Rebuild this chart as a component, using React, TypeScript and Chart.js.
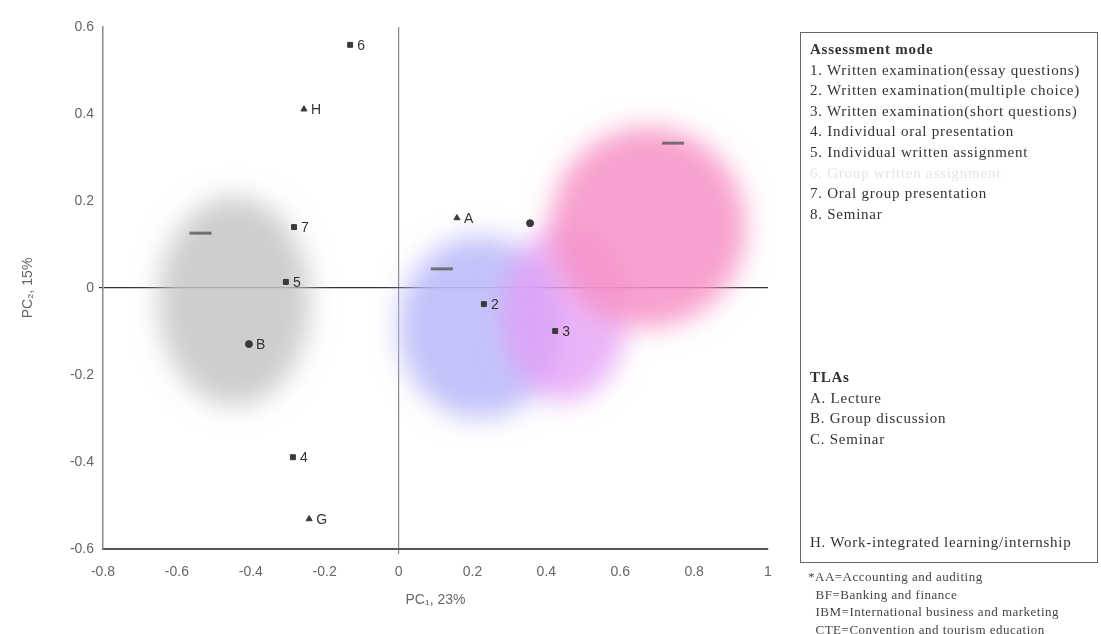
import React, { useEffect, useRef } from "react";
import { Chart, registerables } from "chart.js";

Chart.register(...registerables);

// Item scores (PC1, PC2)
const pointLabels = ["6", "H", "7", "5", "B", "4", "G", "A", "", "2", "3"];
const pointX = [-0.131, -0.256, -0.283, -0.305, -0.405, -0.286, -0.242, 0.158, 0.356, 0.231, 0.424];
const pointY = [0.559, 0.411, 0.14, 0.014, -0.129, -0.389, -0.531, 0.161, 0.149, -0.037, -0.099];
const pointShapes = ["rect", "triangle", "rect", "rect", "circle", "rect", "triangle", "triangle", "circle", "rect", "rect"];

// Programme centroids (short dash marks)
const centroidX = [-0.536, 0.117, 0.743];
const centroidY = [0.126, 0.044, 0.333];

// Cluster regions (centre and half-extent in data units)
const blobX = [-0.445, 0.22, 0.45, 0.675];
const blobY = [-0.03, -0.09, -0.06, 0.14];
const blobRX = [0.205, 0.22, 0.17, 0.265];
const blobRY = [0.24, 0.21, 0.2, 0.23];
const blobColors = [
  "rgba(198,198,198,0.85)",
  "rgba(188,188,250,0.9)",
  "rgba(228,155,245,0.75)",
  "rgba(247,145,198,0.85)",
];

const xTicks = [-0.8, -0.6, -0.4, -0.2, 0, 0.2, 0.4, 0.6, 0.8, 1];
const yTicks = [-0.6, -0.4, -0.2, 0, 0.2, 0.4, 0.6];

const assessmentItems = [
  "1. Written examination(essay questions)",
  "2. Written examination(multiple choice)",
  "3. Written examination(short questions)",
  "4. Individual oral presentation",
  "5. Individual written assignment",
  "6. Group written assignment",
  "7. Oral group presentation",
  "8. Seminar",
];
const fadedAssessment = [false, false, false, false, false, true, false, false];
const tlaItems = ["A. Lecture", "B. Group discussion", "C. Seminar", "", "", "", "", "H. Work-integrated learning/internship"];
const footnotes = [
  "*AA=Accounting and auditing",
  "  BF=Banking and finance",
  "  IBM=International business and marketing",
  "  CTE=Convention and tourism education",
];

const blobPlugin = {
  id: "blobs",
  beforeDatasetsDraw(chart: any) {
    const { ctx, scales } = chart;
    const x = scales.x;
    const y = scales.y;
    ctx.save();
    ctx.filter = "blur(13px)";
    for (let i = 0; i < blobX.length; i++) {
      const cx = x.getPixelForValue(blobX[i]);
      const cy = y.getPixelForValue(blobY[i]);
      const rx = Math.abs(x.getPixelForValue(blobX[i] + blobRX[i]) - cx);
      const ry = Math.abs(y.getPixelForValue(blobY[i] + blobRY[i]) - cy);
      ctx.fillStyle = blobColors[i];
      ctx.beginPath();
      ctx.ellipse(cx, cy, rx, ry, 0, 0, Math.PI * 2);
      ctx.fill();
    }
    ctx.restore();
  },
};

const labelPlugin = {
  id: "pointLabels",
  afterDatasetsDraw(chart: any) {
    const { ctx } = chart;
    const meta = chart.getDatasetMeta(0);
    ctx.save();
    ctx.font = "14px 'Liberation Sans', Arial, sans-serif";
    ctx.fillStyle = "#333";
    ctx.textBaseline = "middle";
    ctx.textAlign = "left";
    meta.data.forEach((pt: any, i: number) => {
      if (pointLabels[i]) ctx.fillText(pointLabels[i], pt.x + 7, pt.y + 1);
    });
    ctx.restore();
  },
};

export default function App() {
  const canvasRef = useRef<HTMLCanvasElement | null>(null);

  useEffect(() => {
    if (!canvasRef.current) return;
    const chart = new Chart(canvasRef.current, {
      type: "scatter",
      data: {
        datasets: [
          {
            label: "Items",
            data: pointX.map((v, i) => ({ x: v, y: pointY[i] })),
            pointStyle: pointShapes as any,
            pointRadius: 3.5,
            backgroundColor: "#3a3a3a",
            borderColor: "#3a3a3a",
          },
          {
            label: "Centroids",
            data: centroidX.map((v, i) => ({ x: v, y: centroidY[i] })),
            pointStyle: "line",
            pointRadius: 11,
            borderWidth: 3,
            borderColor: "rgba(90,90,90,0.8)",
            backgroundColor: "rgba(90,90,90,0.8)",
          },
        ],
      },
      options: {
        responsive: false,
        animation: false,
        layout: { padding: { left: 20, top: 27, right: 333, bottom: 25 } },
        plugins: { legend: { display: false }, tooltip: { enabled: false } },
        scales: {
          x: {
            type: "linear",
            min: -0.8,
            max: 1,
            afterBuildTicks: (s: any) => {
              s.ticks = xTicks.map((v) => ({ value: v }));
            },
            afterFit: (s: any) => {
              s.height = 60;
            },
            ticks: {
              padding: 10,
              color: "#666",
              font: { family: "'Liberation Sans', Arial, sans-serif", size: 14 },
              callback: (v: any) => String(Math.round(Number(v) * 10) / 10),
            },
            grid: {
              drawOnChartArea: true,
              tickLength: 5,
              color: (c: any) => (c.tick && Math.abs(c.tick.value) < 1e-9 ? "#888" : "rgba(0,0,0,0)"),
              lineWidth: 1.2,
            },
            border: { display: true, color: "#555", width: 2 },
            title: {
              display: true,
              text: "PC\u2081, 23%",
              color: "#666",
              font: { family: "'Liberation Sans', Arial, sans-serif", size: 14 },
              padding: { top: 0, bottom: 0 },
            },
          },
          y: {
            type: "linear",
            min: -0.6,
            max: 0.6,
            afterBuildTicks: (s: any) => {
              s.ticks = yTicks.map((v) => ({ value: v }));
            },
            afterFit: (s: any) => {
              s.width = 83;
            },
            ticks: {
              padding: 5,
              color: "#666",
              font: { family: "'Liberation Sans', Arial, sans-serif", size: 14 },
              callback: (v: any) => String(Math.round(Number(v) * 10) / 10),
            },
            grid: {
              drawOnChartArea: true,
              tickLength: 4,
              color: (c: any) => (c.tick && Math.abs(c.tick.value) < 1e-9 ? "#333" : "rgba(0,0,0,0)"),
              lineWidth: 1.2,
            },
            border: { display: true, color: "#888", width: 1.5 },
            title: {
              display: true,
              text: "PC\u2082, 15%",
              color: "#666",
              font: { family: "'Liberation Sans', Arial, sans-serif", size: 14 },
              padding: { top: 0, bottom: 4 },
            },
          },
        },
      },
      plugins: [blobPlugin, labelPlugin],
    });
    return () => chart.destroy();
  }, []);

  const serif = "'Liberation Serif', 'Times New Roman', serif";
  const lineH = 20.6;

  return (
    <div style={{ position: "fixed", left: 0, top: 0, width: 1101, height: 634, background: "#fff", overflow: "hidden" }}>
      <canvas ref={canvasRef} width={1101} height={634} style={{ position: "absolute", left: 0, top: 0 }} />
      <div
        style={{
          position: "absolute",
          left: 800,
          top: 32,
          width: 298,
          height: 531,
          border: "1px solid #666",
          boxSizing: "border-box",
          fontFamily: serif,
          fontSize: 15,
          letterSpacing: "0.75px",
          color: "#333",
        }}
      >
        <div style={{ position: "absolute", left: 9, top: 6, lineHeight: `${lineH}px`, whiteSpace: "nowrap" }}>
          <div style={{ fontWeight: "bold" }}>Assessment mode</div>
          {assessmentItems.map((t, i) => (
            <div key={i} style={{ color: fadedAssessment[i] ? "#e4e4e4" : "#333" }}>{t}</div>
          ))}
        </div>
        <div style={{ position: "absolute", left: 9, top: 334, lineHeight: `${lineH}px`, whiteSpace: "nowrap" }}>
          <div style={{ fontWeight: "bold" }}>TLAs</div>
          {tlaItems.map((t, i) => (
            <div key={i} style={{ height: lineH }}>{t}</div>
          ))}
        </div>
      </div>
      <div
        style={{
          position: "absolute",
          left: 808,
          top: 568,
          fontFamily: serif,
          fontSize: 13,
          letterSpacing: "0.5px",
          color: "#444",
          lineHeight: "17.5px",
          whiteSpace: "pre",
        }}
      >
        {footnotes.map((t, i) => (
          <div key={i}>{t}</div>
        ))}
      </div>
    </div>
  );
}
